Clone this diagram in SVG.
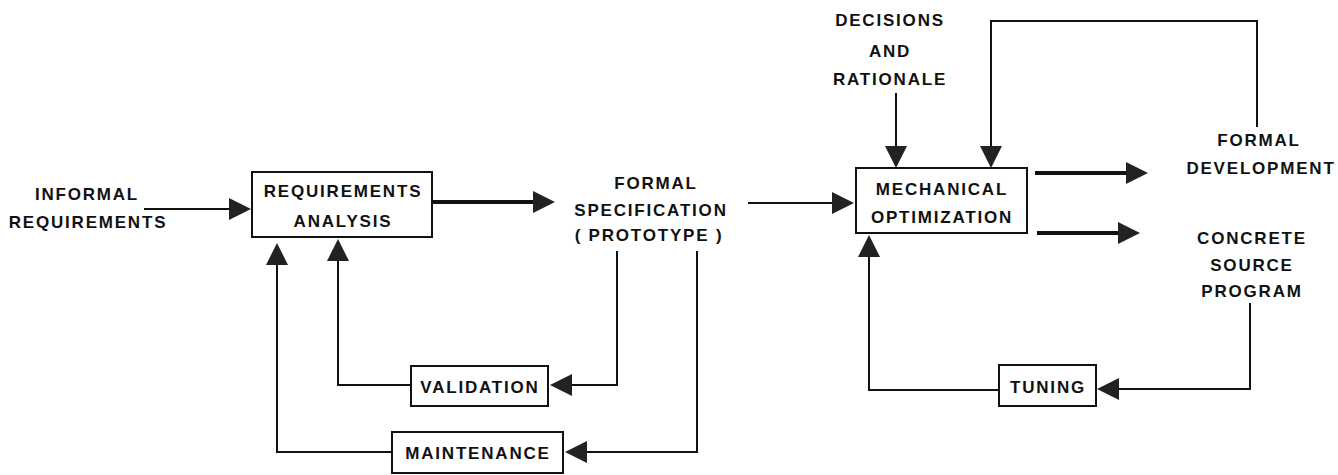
<svg xmlns="http://www.w3.org/2000/svg" width="1338" height="475" viewBox="0 0 1338 475">
<style>
text{font-family:"Liberation Sans",Arial,sans-serif;font-weight:bold;font-size:17px;letter-spacing:1.8px;fill:#111;text-anchor:middle}
.box{fill:#fff;stroke:#111;stroke-width:2}
.ln{fill:none;stroke:#111;stroke-width:2;marker-end:url(#ah)}
.thick{fill:none;stroke:#111;stroke-width:4;marker-end:url(#ah)}
</style>
<defs>
<marker id="ah" markerUnits="userSpaceOnUse" markerWidth="23" markerHeight="24" refX="0" refY="12" orient="auto" viewBox="0 0 23 24">
<path d="M0,1 L22,12 L0,23 Z" fill="#222"/>
</marker>
</defs>
<rect width="1338" height="475" fill="#fff"/>
<g id="connectors">
<path class="ln" d="M144,209 H229"/>
<path class="thick" d="M432,202 H533"/>
<path class="ln" d="M748,203 H832"/>
<path class="ln" d="M896,93 V146"/>
<path class="ln" d="M1257,127 V21 H991 V146"/>
<path class="thick" d="M1035,173 H1126"/>
<path class="thick" d="M1037,233 H1118"/>
<path class="ln" d="M1250,303 V389 H1119"/>
<path class="ln" d="M999,390 H869 V257"/>
<path class="ln" d="M617,251 V385 H572"/>
<path class="ln" d="M411,385 H338 V261"/>
<path class="ln" d="M697,251 V452 H587"/>
<path class="ln" d="M392,452 H277 V265"/>
</g>
<g id="informal">
<text x="87" y="200">INFORMAL</text>
<text x="88" y="228">REQUIREMENTS</text>
</g>
<g id="req-analysis">
<rect class="box" x="252" y="172" width="180" height="65"/>
<text x="343" y="197">REQUIREMENTS</text>
<text x="343" y="227">ANALYSIS</text>
</g>
<g id="formal-spec">
<text x="656" y="189">FORMAL</text>
<text x="651" y="216">SPECIFICATION</text>
<text x="649" y="241">( PROTOTYPE )</text>
</g>
<g id="decisions">
<text x="890" y="26">DECISIONS</text>
<text x="890" y="57">AND</text>
<text x="890" y="85">RATIONALE</text>
</g>
<g id="mech-opt">
<rect class="box" x="856" y="168" width="171" height="65"/>
<text x="942" y="195">MECHANICAL</text>
<text x="942" y="223">OPTIMIZATION</text>
</g>
<g id="formal-dev">
<text x="1259" y="146">FORMAL</text>
<text x="1261" y="174">DEVELOPMENT</text>
</g>
<g id="concrete">
<text x="1252" y="244">CONCRETE</text>
<text x="1252" y="271">SOURCE</text>
<text x="1252" y="297">PROGRAM</text>
</g>
<g id="validation">
<rect class="box" x="411" y="366" width="137" height="40"/>
<text x="480" y="393">VALIDATION</text>
</g>
<g id="maintenance">
<rect class="box" x="392" y="432" width="171" height="41"/>
<text x="478" y="459">MAINTENANCE</text>
</g>
<g id="tuning">
<rect class="box" x="999" y="365" width="97" height="41"/>
<text x="1048" y="393">TUNING</text>
</g>
</svg>
